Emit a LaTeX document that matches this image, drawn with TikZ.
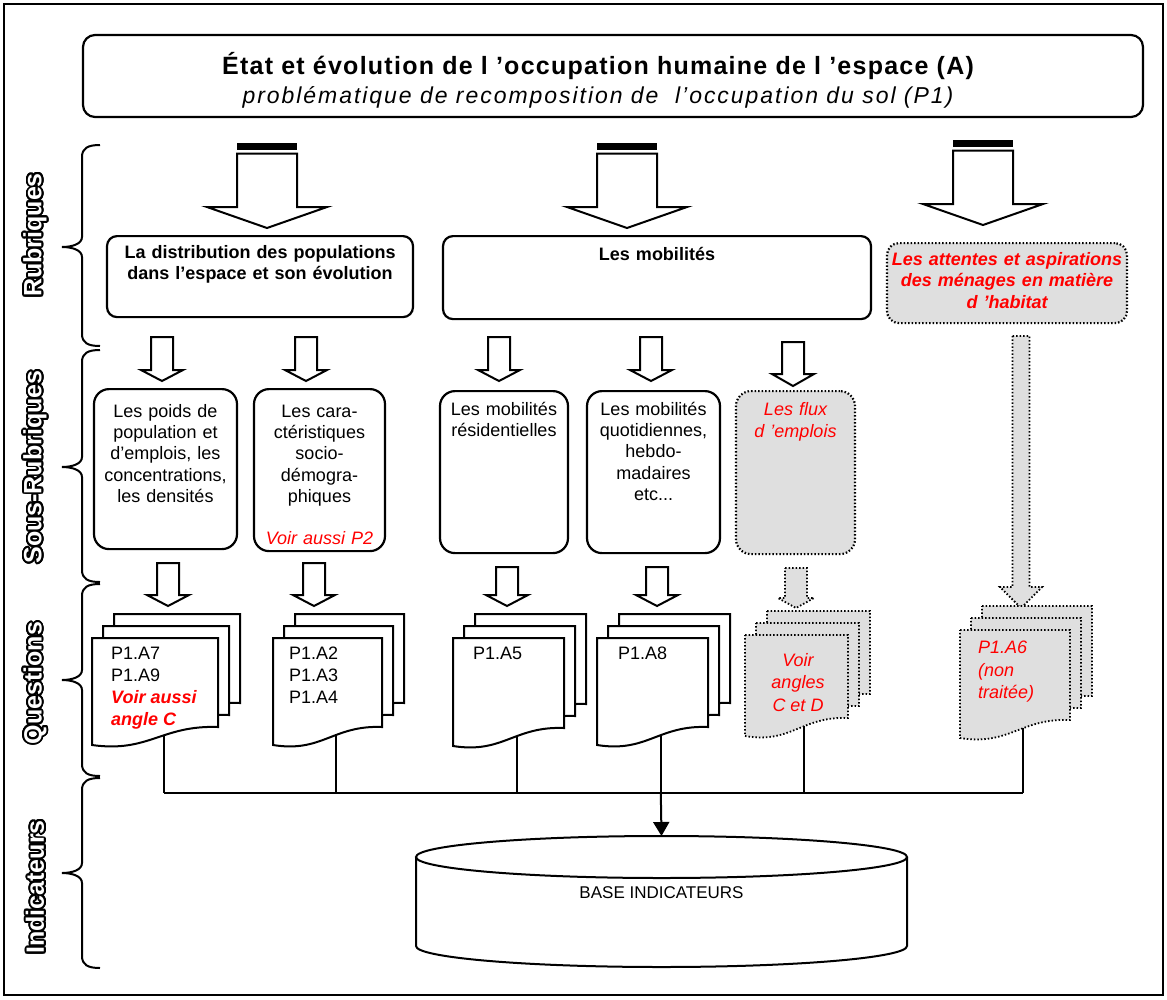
\documentclass[tikz,border=0pt]{standalone}
\usepackage{fontspec}
\setmainfont{Liberation Sans}
\usetikzlibrary{arrows.meta}
\usetikzlibrary{positioning}

\begin{document}
\begin{tikzpicture}[x=1pt, y=-1pt,
    every node/.style={inner sep=0pt, font=\fontsize{18}{21.3}\selectfont},
    cadre/.style={draw, line width=2.2pt, rounded corners=10pt, fill=white},
    grisbox/.style={draw=black, dash pattern=on 1.5pt off 2pt, line width=2.2pt, rounded corners=12pt, fill=gray!25},
    haut/.style 2 args={text width=#1, align=center, text height=#2},
    bloc/.style={draw, line width=2pt, fill=white, line join=miter},
    grisbloc/.style={draw=black, dash pattern=on 1.5pt off 2pt, line width=1.8pt, fill=gray!25},
    feuille/.style={draw, line width=2pt, fill=white},
    grisfeuille/.style={grisbloc},
    trait/.style={line width=2pt},
    accolade/.style={line width=2pt},
    etiquette/.style={rotate=90, font=\fontsize{25}{25}\selectfont\bfseries},
    gras/.style={font=\fontsize{18}{21.5}\selectfont\bfseries},
    rouge/.style={text=red, font=\fontsize{18}{22.5}\selectfont\itshape},
    rougegras/.style={text=red, font=\fontsize{18}{21.5}\selectfont\bfseries\itshape},
  ]

    \useasboundingbox (0,0) rectangle (1167,999);
    \draw[trait] (4,4) rectangle (1163,995);

    % Titre
    \node[cadre, rounded corners=12pt, minimum width=1060pt, minimum height=82pt] (titre) at (613,76) {};
    \node[font=\fontsize{25}{25}\selectfont\bfseries\addfontfeature{LetterSpace=5}] (titre1) at (598,66) {État et évolution de l ’occupation humaine de l ’espace (A)};
    \node[font=\fontsize{23}{23}\selectfont\itshape\addfontfeature{LetterSpace=8.5}] (titre2) at (598,97) {problématique de recomposition de \ l’occupation du sol (P1)};

    % Etiquettes de gauche (contour noir, lettres blanches)
    \foreach \nom/\y/\txt in {lrub/235/Rubriques, lsous/467/Sous-Rubriques, lquest/683/Questions, lind/887/Indicateurs} {
        \foreach \ang in {0,15,...,345}
            \node[etiquette, text=black, xshift={1.9*cos(\ang)}, yshift={1.9*sin(\ang)}] (\nom\ang) at (35,\y) {\txt};
        \node[etiquette, text=white] (\nom) at (35,\y) {\txt};
    }

    % Accolades
    \foreach \a/\m/\b in {145/247/346, 350/467/582, 584/680/776, 778/873/968} {
        \draw[accolade] (100,\a) .. controls (88,\a) and (82,\a+3) .. (82,\a+12) -- (82,\m-10)
            .. controls (82,\m-3) and (72,\m) .. (62,\m)
            .. controls (72,\m) and (82,\m+3) .. (82,\m+10) -- (82,\b-12)
            .. controls (82,\b-3) and (88,\b) .. (100,\b);
    }

    % Grosses fleches
    \foreach \x/\t in {267/143, 627/143, 983/140} {
        \fill (\x-30,\t) rectangle (\x+30,\t+6.5);
        \draw[bloc] (\x-30,\t+10.5) -- (\x+30,\t+10.5) -- (\x+30,\t+64) -- (\x+60,\t+64)
            -- (\x,\t+85) -- (\x-60,\t+64) -- (\x-30,\t+64) -- cycle;
    }

    % Rubriques
    \node[cadre, gras, haut={306pt}{22pt}, text depth=59pt, anchor=north] (rub1) at (260,235) {La distribution des populations\\dans l’espace et son évolution};
    \node[cadre, gras, haut={428pt}{24pt}, text depth=59pt, anchor=north] (rub2) at (657,235) {Les mobilités};
    \node[grisbox, rougegras, haut={240pt}{22pt}, text depth=58pt, anchor=north] (rub3) at (1007,242) {Les attentes et aspirations\\des ménages en matière\\d ’habitat};

    % Petites fleches
    \foreach \x/\t/\b/\p in {162/337/370/381, 306/337/370/381, 499/337/370/381, 651/337/370/381, 793/342/374/386,
                             168/563/595/606, 314/563/595/606, 507/567/595/606, 657/567/595/606} {
        \draw[bloc] (\x-11,\t) -- (\x+11,\t) -- (\x+11,\b) -- (\x+21,\b) -- (\x,\p)
            -- (\x-21,\b) -- (\x-11,\b) -- cycle;
    }
    \foreach \x/\t/\b/\p/\s/\h in {796/568/598/608/11/18, 1021/336/587/608/8.5/21} {
        \draw[grisbloc] (\x-\s,\t) -- (\x+\s,\t) -- (\x+\s,\b) -- (\x+\h,\b) -- (\x,\p)
            -- (\x-\h,\b) -- (\x-\s,\b) -- cycle;
    }

    % Sous-rubriques
    \node[cadre, rounded corners=15pt, haut={143pt}{28pt}, text depth=132pt, anchor=north] (sr1) at (165.5,388) {Les poids de\\population et\\d’emplois, les\\concentrations,\\les densités};
    \node[cadre, rounded corners=15pt, haut={131pt}{28pt}, text depth=134pt, anchor=north] (sr2) at (319.5,388) {Les cara-\\ctéristiques\\socio-\\démogra-\\phiques\\[21.3pt]\textcolor{red}{\itshape Voir aussi P2}};
    \node[cadre, rounded corners=15pt, haut={128pt}{24pt}, text depth=138pt, anchor=north] (sr3) at (504,390) {Les mobilités\\résidentielles};
    \node[cadre, rounded corners=15pt, haut={133pt}{24pt}, text depth=138pt, anchor=north] (sr4) at (653.5,390) {Les mobilités\\quotidiennes,\\hebdo-\\madaires\\etc...};
    \node[grisbox, rouge, rounded corners=15pt, haut={119pt}{24pt}, text depth=139pt, anchor=north] (sr5) at (795.5,390) {Les flux\\d ’emplois};

    % Questions
    \foreach \l/\t/\w/\h/\s/\n in {92/638/126/89/feuille/1, 273/638/109/89/feuille/2, 453/638/111/90/feuille/3,
                                   597/638/111/89/feuille/4, 745/635/103/83/grisfeuille/5, 960/630/110/90/grisfeuille/6} {
        \foreach \k in {2,1,0} {
            \draw[\s] ({\l+11*\k},{\t-12*\k}) -- ++(\w,0) -- ++(0,\h)
                .. controls ({\l+11*\k+0.55*\w},{\t-12*\k+\h-2}) and ({\l+11*\k+0.45*\w},{\t-12*\k+\h+26}) .. ({\l+11*\k},{\t-12*\k+\h+18})
                coordinate[pos=0.41] (qb\n) -- cycle;
        }
    }
    \node[anchor=north west, align=left, font=\fontsize{18}{22}\selectfont] (q1) at (111,647) {P1.A7\\P1.A9\\\textcolor{red}{\bfseries\itshape Voir aussi}\\\textcolor{red}{\bfseries\itshape angle C}};
    \node[anchor=north west, align=left, font=\fontsize{18}{22}\selectfont] (q2) at (289,647) {P1.A2\\P1.A3\\P1.A4};
    \node[anchor=north west] (q3) at (473,647) {P1.A5};
    \node[anchor=north west] (q4) at (618,647) {P1.A8};
    \node[anchor=north, align=center, rouge] (q5) at (798,653) {Voir\\angles\\C et D};
    \node[anchor=north west, align=left, rouge] (q6) at (978,641) {P1.A6\\(non\\traitée)};

    % Liaisons vers la base
    \coordinate (bus) at (0,793);
    \coordinate (basetop) at (661.5,836);
    \foreach \n in {1,...,6} {
        \draw[trait] (qb\n) -- (qb\n |- bus);
    }
    \draw[trait] (qb1 |- bus) -- (qb6 |- bus);
    \draw[trait, -{Triangle[length=14pt, width=16pt]}] (qb4 |- bus) -- (basetop);

    % Base indicateurs
    \draw[trait] (416,857) -- (416,946) arc[start angle=180, end angle=0, x radius=245.5, y radius=21] -- (907,857);
    \draw[trait] (661.5,857) ellipse [x radius=245.5, y radius=21];
    \node[font=\fontsize{17}{17}\selectfont] (base) at (661.5,893) {BASE INDICATEURS};

\end{tikzpicture}
\end{document}
